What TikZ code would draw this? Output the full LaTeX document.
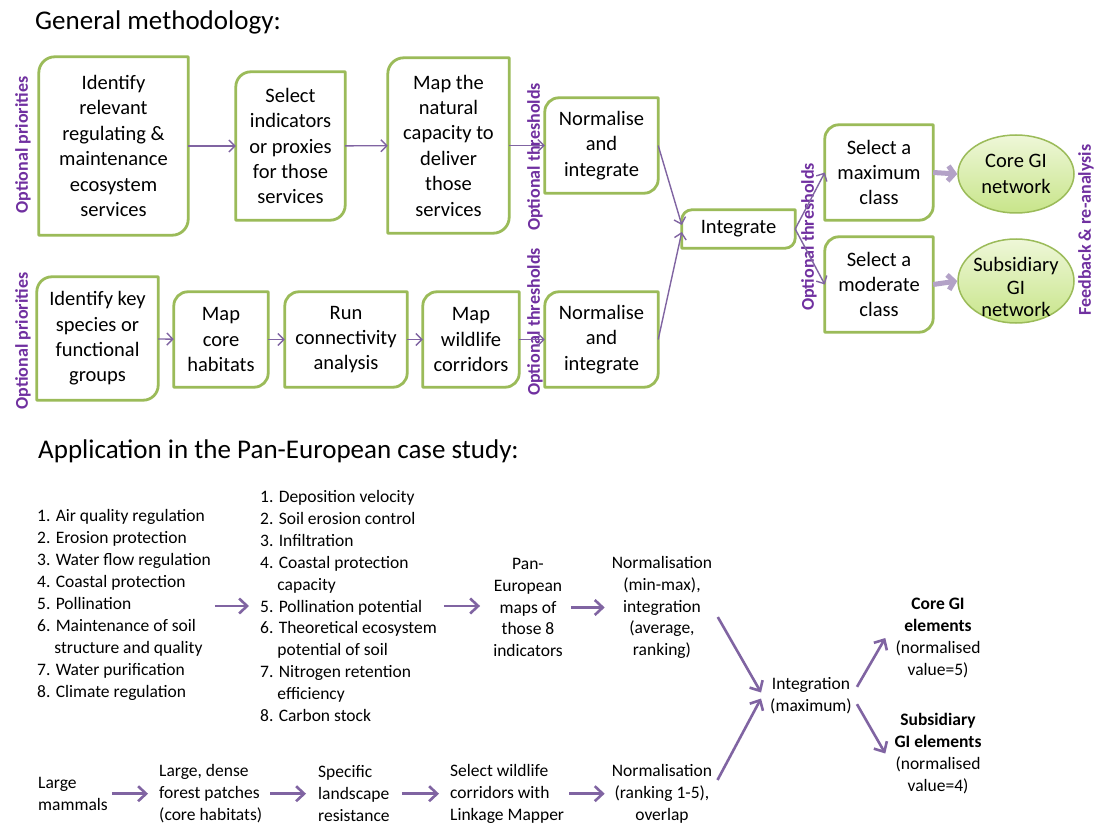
\documentclass[tikz,border=0pt]{standalone}
\usepackage{fontspec}
\setmainfont{Carlito}
\usetikzlibrary{arrows.meta,shapes.geometric}
\definecolor{gborder}{HTML}{9BBB59}
\definecolor{arrowpurple}{HTML}{8064A2}
\definecolor{lightpurple}{HTML}{B3A2C7}
\definecolor{labelpurple}{HTML}{7030A0}
\definecolor{elltop}{HTML}{EEF7D8}
\definecolor{ellbot}{HTML}{C8E58A}
\newcommand{\boxfont}{\fontsize{20.5}{25.4}\selectfont}
\newcommand{\smallfont}{\fontsize{17.5}{21.9}\selectfont}
\newcommand{\vlabfont}{\fontsize{18}{20}\selectfont\bfseries}
\newcommand{\titlefont}{\fontsize{27}{32}\selectfont}
\begin{document}
\begin{tikzpicture}[x=1pt,y=1pt,
  gbox/.style={rectangle, align=center, inner sep=0pt, font=\boxfont},
  gline/.style={draw=gborder, line width=2.8pt, line join=round},
  gell/.style={ellipse, draw=gborder, line width=1.5pt, top color=elltop, bottom color=ellbot, inner sep=0pt},
  thinarrow/.style={draw=arrowpurple, line width=1.4pt, -{Straight Barb[length=6pt,width=12pt]}},
  thickarrow/.style={draw=lightpurple, line width=5pt, -{Straight Barb[length=6pt,width=15pt]}},
  barrow/.style={draw=arrowpurple, line width=2.6pt, -{Straight Barb[length=8pt,width=15pt]}},
  vlabel/.style={rotate=90, text=labelpurple, font=\vlabfont, inner sep=0pt},
  txt/.style={align=center, inner sep=0pt, font=\smallfont},
  ltxt/.style={align=left, inner sep=0pt, font=\smallfont, anchor=west},
]
\useasboundingbox (0,0) rectangle (1096,-824);
\fill[white] (0,0) rectangle (1096,-824);

% titles
\node[anchor=west, inner sep=0pt, font=\titlefont] (t1) at (35,-22) {General methodology:};
\node[anchor=west, inner sep=0pt, font=\titlefont] (t2) at (38,-451) {Application in the Pan-European case study:};

% top row boxes
\node[gbox, minimum width=149pt, minimum height=178pt] (A) at (113.5,-146) {Identify\\relevant\\regulating \&\\maintenance\\ecosystem\\services};
\node[gbox, minimum width=109pt, minimum height=148pt] (B) at (290.5,-146) {Select\\indicators\\or proxies\\for those\\services};
\node[gbox, minimum width=121pt, minimum height=175pt] (C) at (448.5,-145.5) {Map the\\natural\\capacity to\\deliver\\those\\services};
\node[gbox, minimum width=113pt, minimum height=95pt] (D) at (601.5,-145.5) {Normalise\\and\\integrate};
\node[gbox, minimum width=113pt, minimum height=38pt] (INT) at (738.5,-229) {Integrate};
\node[gbox, minimum width=108pt, minimum height=95pt] (SMAX) at (879,-172.5) {Select a\\maximum\\class};
\node[gbox, minimum width=108pt, minimum height=95pt] (SMOD) at (879,-284.5) {Select a\\moderate\\class};

% second row boxes
\node[gbox, minimum width=121pt, minimum height=123pt] (E) at (97.5,-338.5) {Identify key\\species or\\functional\\groups};
\node[gbox, minimum width=94pt, minimum height=95pt] (F) at (221,-339.5) {Map\\core\\habitats};
\node[gbox, minimum width=122pt, minimum height=95pt] (G) at (346,-339.5) {Run\\connectivity\\analysis};
\node[gbox, minimum width=96pt, minimum height=95pt] (H) at (471,-339.5) {Map\\wildlife\\corridors};
\node[gbox, minimum width=113pt, minimum height=95pt] (I) at (601.5,-339.5) {Normalise\\and\\integrate};

% box borders: rounded top-left and bottom-right corners
\foreach \n/\r in {A/16,B/15,C/16,D/14,INT/10,SMAX/14,SMOD/14,E/15,F/14,G/14,H/14,I/14}{
  \draw[gline] ([yshift=-\r pt]\n.north west) -- (\n.south west) -- ([xshift=-\r pt]\n.south east)
    arc[start angle=-90,end angle=0,radius=\r pt] -- (\n.north east) -- ([xshift=\r pt]\n.north west)
    arc[start angle=90,end angle=180,radius=\r pt] -- cycle;
}

% ellipses
\node[gell, minimum width=116pt, minimum height=78pt,
  label={[font=\boxfont, align=center, inner sep=0pt]center:Core GI\\network}] (CORE) at (1016,-174) {};
\node[gell, minimum width=116pt, minimum height=84pt,
  label={[font=\fontsize{20.5}{22.6}\selectfont, align=center, inner sep=0pt, yshift=-6pt]center:Subsidiary\\GI\\network}] (SUBS) at (1016,-281) {};

% vertical labels
\node[vlabel] (vp1) at (23,-145) {Optional priorities};
\node[vlabel] (vp2) at (23,-341) {Optional priorities};
\node[vlabel] (vt1) at (535,-157) {Optional thresholds};
\node[vlabel] (vt2) at (535,-322) {Optional thresholds};
\node[vlabel] (vt3) at (809,-237) {Optional thresholds};
\node[vlabel] (vf) at (1086,-230) {Feedback \& re-analysis};

% top arrows
\draw[thinarrow] (A) -- (B);
\draw[thinarrow] (B) -- (C);
\draw[thinarrow] (C) -- (D);
\draw[thinarrow] (E) -- (F);
\draw[thinarrow] (F) -- (G);
\draw[thinarrow] (G) -- (H);
\draw[thinarrow] (H) -- (I);
\draw[thinarrow] (D.east) -- ([yshift=4pt]INT.west);
\draw[thinarrow] (I.east) -- ([yshift=-3pt]INT.west);
\draw[thinarrow] (INT.east) -- (SMAX.west);
\draw[thinarrow] (INT.east) -- (SMOD.west);
\draw[thickarrow] (SMAX.east) -- (CORE.west);
\draw[thickarrow] (SMOD.east) -- (SUBS.west);

% bottom section
\node[ltxt] (L1) at (37,-605) {1. Air quality regulation\\2. Erosion protection\\3. Water flow regulation\\4. Coastal protection\\5. Pollination\\6. Maintenance of soil\\\phantom{6.}\ structure and quality\\7. Water purification\\8. Climate regulation};
\node[ltxt] (L2) at (260,-606) {1. Deposition velocity\\2. Soil erosion control\\3. Infiltration\\4. Coastal protection\\\phantom{4.}\ capacity\\5. Pollination potential\\6. Theoretical ecosystem\\\phantom{6.}\ potential of soil\\7. Nitrogen retention\\\phantom{7.}\ efficiency\\8. Carbon stock};
\node[txt] (PAN) at (528,-607.5) {Pan-\\European\\maps of\\those 8\\indicators};
\node[txt] (N1) at (662,-607.5) {Normalisation\\(min-max),\\integration\\(average,\\ranking)};
\node[txt] (IG) at (811,-695.5) {Integration\\(maximum)};
\node[txt] (CG) at (938,-638) {\textbf{Core GI}\\\textbf{elements}\\(normalised\\value=5)};
\node[txt] (SG) at (938,-753.5) {\textbf{Subsidiary}\\\textbf{GI elements}\\(normalised\\value=4)};
\node[ltxt] (MAM) at (38,-793.7) {Large\\mammals};
\node[ltxt] (FOR) at (159,-793.7) {Large, dense\\forest patches\\(core habitats)};
\node[ltxt] (SPE) at (318,-793.7) {Specific\\landscape\\resistance};
\node[ltxt] (SEL) at (450,-793.7) {Select wildlife\\corridors with\\Linkage Mapper};
\node[txt] (N2) at (662,-793.7) {Normalisation\\(ranking 1-5),\\overlap};

\draw[barrow, shorten <=4pt, shorten >=11pt] ([yshift=-1pt]L1.east) -- ([yshift=-1pt]L1.east -| L2.west);
\draw[barrow, shorten <=7pt, shorten >=13pt] (L2.east) -- (L2.east -| PAN.west);
\draw[barrow, shorten <=8pt, shorten >=7pt] (PAN.east) -- (N1.west);
\draw[barrow, shorten <=11pt] (N1.east) -- ([xshift=-9pt,yshift=3pt]IG.west);
\draw[barrow, shorten <=11pt] ([yshift=4pt]N2.east) -- ([xshift=-9pt,yshift=-3pt]IG.west);
\draw[barrow, shorten <=10pt] (IG.east) -- ([xshift=-10pt]CG.west);
\draw[barrow, shorten <=10pt] (IG.east) -- ([xshift=-9pt]SG.west);
\draw[barrow, shorten <=4pt, shorten >=11pt] (MAM.east) -- (MAM.east -| FOR.west);
\draw[barrow, shorten <=8pt, shorten >=12pt] (FOR.east) -- (SPE.west);
\draw[barrow, shorten <=12pt, shorten >=11pt] (SPE.east) -- (SEL.west);
\draw[barrow, shorten <=5pt, shorten >=7pt] (SEL.east) -- (N2.west);
\end{tikzpicture}
\end{document}
